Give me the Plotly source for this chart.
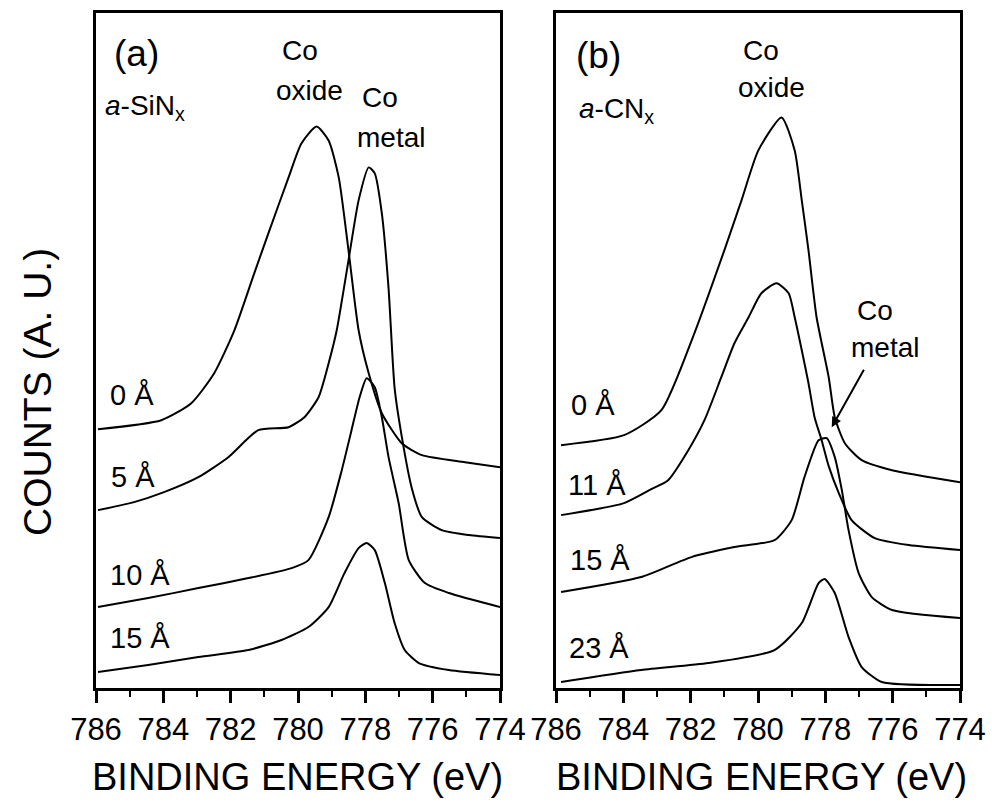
import plotly.graph_objects as go

# ---- data: panel (a) a-SiNx ----
a0_e = [785.94, 784.06, 783.17, 782.49, 781.89, 781.30, 780.88, 780.28, 779.90, 779.45, 779.09, 778.79, 778.50, 778.20, 777.90, 777.51, 776.92, 776.32, 775.04, 774.00]
a0_c = [259, 268, 285, 315, 358, 415, 455, 511, 545, 562, 548, 511, 438, 358, 315, 275, 245, 233, 226, 221]

a5_e = [785.94, 784.87, 783.98, 782.96, 782.07, 781.18, 780.28, 779.81, 779.39, 779.09, 778.85, 778.50, 778.20, 777.90, 777.72, 777.51, 777.31, 777.13, 776.92, 776.62, 776.32, 775.73, 774.92, 774.00]
a5_c = [178, 186, 196, 211, 231, 258, 261, 271, 291, 325, 358, 428, 488, 521, 515, 475, 400, 300, 252, 200, 171, 158, 153, 150]

a10_e = [785.94, 784.45, 782.96, 781.47, 780.19, 779.69, 779.09, 778.70, 778.41, 778.17, 777.96, 777.72, 777.51, 777.31, 777.01, 776.71, 776.23, 775.52, 774.00]
a10_c = [81, 90, 100, 110, 120, 128, 171, 218, 258, 291, 310, 301, 271, 231, 185, 128, 105, 95, 81]

a15_e = [785.94, 784.45, 782.96, 781.47, 780.49, 779.69, 779.09, 778.62, 778.20, 777.96, 777.72, 777.42, 777.13, 776.83, 776.41, 775.52, 774.00]
a15_c = [16, 23, 31, 38, 48, 61, 81, 115, 140, 145, 138, 105, 65, 38, 25, 18, 13]

# ---- data: panel (b) a-CNx ----
b0_e = [785.85, 783.98, 782.87, 781.89, 781.00, 780.49, 779.99, 779.30, 778.91, 778.70, 778.50, 778.26, 777.90, 777.72, 777.42, 776.92, 776.02, 774.00]
b0_c = [243, 253, 278, 355, 438, 488, 538, 571, 538, 488, 438, 371, 311, 271, 245, 228, 218, 206]

b11_e = [785.85, 783.98, 783.17, 782.67, 782.07, 781.59, 781.09, 780.70, 780.28, 779.90, 779.45, 779.09, 778.91, 778.70, 778.50, 778.32, 778.11, 777.90, 777.60, 777.22, 776.53, 775.52, 774.00]
b11_c = [173, 185, 199, 208, 238, 268, 311, 345, 371, 395, 405, 395, 371, 338, 305, 271, 248, 222, 195, 168, 150, 143, 138]

b15_e = [785.85, 783.47, 781.98, 780.70, 779.51, 779.00, 778.62, 778.20, 777.96, 777.72, 777.51, 777.31, 777.01, 776.62, 776.02, 774.00]
b15_c = [96, 111, 131, 141, 148, 168, 211, 248, 250, 231, 198, 158, 115, 91, 78, 70]

b23_e = [785.85, 783.47, 781.47, 779.51, 778.70, 778.20, 778.02, 777.72, 777.31, 776.92, 776.32, 774.00]
b23_c = [6, 18, 25, 38, 65, 105, 109, 95, 51, 21, 6, 3]

tick_vals = [786, 784, 782, 780, 778, 776, 774]
tick_text = ["786", "784", "782", "780", "778", "776", "774"]

FONT = "Liberation Sans, Arial, sans-serif"

fig = go.Figure()
for e, c in [(a0_e, a0_c), (a5_e, a5_c), (a10_e, a10_c), (a15_e, a15_c)]:
    fig.add_trace(go.Scatter(x=e, y=c, mode="lines", line=dict(color="black", width=2, shape="spline", smoothing=0.6),
                             xaxis="x", yaxis="y", showlegend=False, hoverinfo="skip"))
for e, c in [(b0_e, b0_c), (b11_e, b11_c), (b15_e, b15_c), (b23_e, b23_c)]:
    fig.add_trace(go.Scatter(x=e, y=c, mode="lines", line=dict(color="black", width=2, shape="spline", smoothing=0.6),
                             xaxis="x2", yaxis="y2", showlegend=False, hoverinfo="skip"))

W, H = 992, 806
ydom = [1 - 688 / H, 1 - 12.5 / H]

xax = dict(range=[786, 774], tickvals=tick_vals, ticktext=tick_text, ticks="outside", ticklen=12, tickwidth=3,
           tickcolor="black", showline=True, linewidth=3, linecolor="black", mirror=True, showgrid=False,
           zeroline=False, tickfont=dict(family=FONT, size=31, color="black"), automargin=False,
           minor=dict(dtick=1, ticks="outside", ticklen=6, tickwidth=2, tickcolor="black"))
yax = dict(range=[0, 676], showticklabels=False, ticks="", showline=True, linewidth=3, linecolor="black",
           mirror=True, showgrid=False, zeroline=False, domain=ydom, automargin=False)

fig.update_layout(
    width=W, height=H, margin=dict(l=0, r=0, t=0, b=0, autoexpand=False),
    paper_bgcolor="white", plot_bgcolor="white",
    xaxis=dict(domain=[96 / W, 500 / W], anchor="y", **xax),
    yaxis=dict(anchor="x", **yax),
    xaxis2=dict(domain=[556 / W, 960 / W], anchor="y2", **xax),
    yaxis2=dict(anchor="x2", **yax),
)

def txt(xref, yref, x, y, s, size=29, xanchor="center"):
    fig.add_annotation(xref=xref, yref=yref, x=x, y=y, text=s, showarrow=False, xanchor=xanchor, yanchor="middle",
                       font=dict(family=FONT, size=size, color="black"))

# panel (a)
txt("x", "y", 784.81, 635, "(a)", 37)
txt("x", "y", 785.78, 581, "<i>a</i>-SiN<sub>x</sub>", 28, "left")
txt("x", "y", 779.95, 638, "Co", 28)
txt("x", "y", 779.65, 598, "oxide", 28)
txt("x", "y", 777.55, 591, "Co", 28)
txt("x", "y", 777.25, 551, "metal", 28)
txt("x", "y", 785.64, 293, "0 Å", 29, "left")
txt("x", "y", 785.61, 211, "5 Å", 29, "left")
txt("x", "y", 785.64, 113, "10 Å", 29, "left")
txt("x", "y", 785.64, 50, "15 Å", 29, "left")

# panel (b)
txt("x2", "y2", 784.75, 633, "(b)", 37)
txt("x2", "y2", 785.37, 578, "<i>a</i>-CN<sub>x</sub>", 28, "left")
txt("x2", "y2", 779.90, 638, "Co", 28)
txt("x2", "y2", 779.60, 601, "oxide", 28)
txt("x2", "y2", 776.53, 378, "Co", 28)
txt("x2", "y2", 776.23, 341, "metal", 28)
txt("x2", "y2", 785.61, 283, "0 Å", 29, "left")
txt("x2", "y2", 785.70, 203, "11 Å", 29, "left")
txt("x2", "y2", 785.64, 128, "15 Å", 29, "left")
txt("x2", "y2", 785.67, 40, "23 Å", 29, "left")

fig.add_annotation(xref="x2", yref="y2", axref="x2", ayref="y2", x=777.81, y=261, ax=776.83, ay=320,
                   showarrow=True, arrowhead=2, arrowsize=1, arrowwidth=2, arrowcolor="black", text="")

# axis titles
fig.add_annotation(xref="paper", yref="paper", x=297 / W, y=1 - 777 / H, text="BINDING ENERGY (eV)", showarrow=False,
                   xanchor="center", yanchor="middle", font=dict(family=FONT, size=38, color="black"))
fig.add_annotation(xref="paper", yref="paper", x=761 / W, y=1 - 777 / H, text="BINDING ENERGY (eV)", showarrow=False,
                   xanchor="center", yanchor="middle", font=dict(family=FONT, size=38, color="black"))
fig.add_annotation(xref="paper", yref="paper", x=38 / W, y=1 - 392 / H, text="COUNTS (A. U.)", showarrow=False,
                   textangle=-90, xanchor="center", yanchor="middle", font=dict(family=FONT, size=39, color="black"))

fig.write_html("out.html")
